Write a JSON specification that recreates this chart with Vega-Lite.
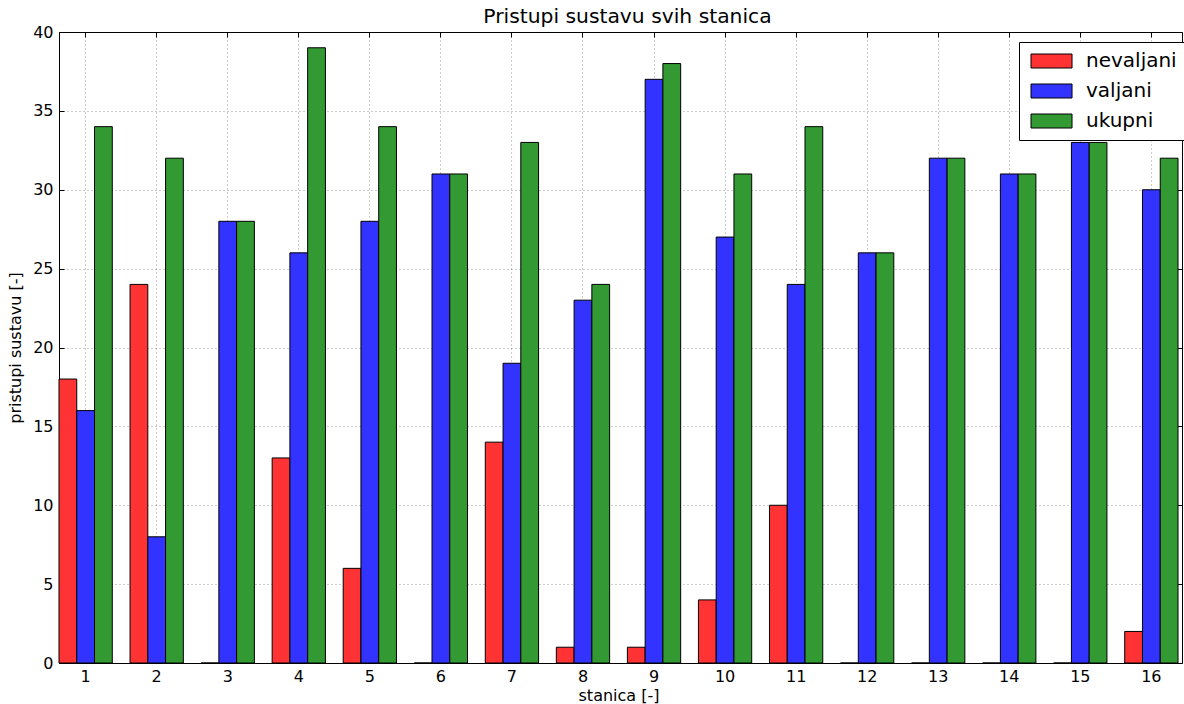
{
  "$schema": "https://vega.github.io/schema/vega-lite/v6.json",
  "width": 1123,
  "height": 631,
  "autosize": {"type": "none"},
  "padding": {"left": 59, "top": 32, "right": 2, "bottom": 41},
  "data": {"values": [
    {"stanica": 1, "serija": "nevaljani", "value": 18}, {"stanica": 1, "serija": "valjani", "value": 16}, {"stanica": 1, "serija": "ukupni", "value": 34},
    {"stanica": 2, "serija": "nevaljani", "value": 24}, {"stanica": 2, "serija": "valjani", "value": 8}, {"stanica": 2, "serija": "ukupni", "value": 32},
    {"stanica": 3, "serija": "nevaljani", "value": 0}, {"stanica": 3, "serija": "valjani", "value": 28}, {"stanica": 3, "serija": "ukupni", "value": 28},
    {"stanica": 4, "serija": "nevaljani", "value": 13}, {"stanica": 4, "serija": "valjani", "value": 26}, {"stanica": 4, "serija": "ukupni", "value": 39},
    {"stanica": 5, "serija": "nevaljani", "value": 6}, {"stanica": 5, "serija": "valjani", "value": 28}, {"stanica": 5, "serija": "ukupni", "value": 34},
    {"stanica": 6, "serija": "nevaljani", "value": 0}, {"stanica": 6, "serija": "valjani", "value": 31}, {"stanica": 6, "serija": "ukupni", "value": 31},
    {"stanica": 7, "serija": "nevaljani", "value": 14}, {"stanica": 7, "serija": "valjani", "value": 19}, {"stanica": 7, "serija": "ukupni", "value": 33},
    {"stanica": 8, "serija": "nevaljani", "value": 1}, {"stanica": 8, "serija": "valjani", "value": 23}, {"stanica": 8, "serija": "ukupni", "value": 24},
    {"stanica": 9, "serija": "nevaljani", "value": 1}, {"stanica": 9, "serija": "valjani", "value": 37}, {"stanica": 9, "serija": "ukupni", "value": 38},
    {"stanica": 10, "serija": "nevaljani", "value": 4}, {"stanica": 10, "serija": "valjani", "value": 27}, {"stanica": 10, "serija": "ukupni", "value": 31},
    {"stanica": 11, "serija": "nevaljani", "value": 10}, {"stanica": 11, "serija": "valjani", "value": 24}, {"stanica": 11, "serija": "ukupni", "value": 34},
    {"stanica": 12, "serija": "nevaljani", "value": 0}, {"stanica": 12, "serija": "valjani", "value": 26}, {"stanica": 12, "serija": "ukupni", "value": 26},
    {"stanica": 13, "serija": "nevaljani", "value": 0}, {"stanica": 13, "serija": "valjani", "value": 32}, {"stanica": 13, "serija": "ukupni", "value": 32},
    {"stanica": 14, "serija": "nevaljani", "value": 0}, {"stanica": 14, "serija": "valjani", "value": 31}, {"stanica": 14, "serija": "ukupni", "value": 31},
    {"stanica": 15, "serija": "nevaljani", "value": 0}, {"stanica": 15, "serija": "valjani", "value": 33}, {"stanica": 15, "serija": "ukupni", "value": 33},
    {"stanica": 16, "serija": "nevaljani", "value": 2}, {"stanica": 16, "serija": "valjani", "value": 30}, {"stanica": 16, "serija": "ukupni", "value": 32}
  ]},
  "layer": [
    {
      "mark": {"type": "bar", "stroke": "#000000", "strokeWidth": 1, "fillOpacity": 1},
      "encoding": {
        "x": {
          "field": "stanica", "type": "ordinal",
          "scale": {"range": [0, 1119], "paddingInner": 0.25, "paddingOuter": 0},
          "axis": {"title": "stanica [-]", "labelAngle": 0, "grid": true, "tickSize": -5, "labelPadding": 10, "titlePadding": 3, "domain": false}
        },
        "xOffset": {
          "field": "serija", "type": "nominal", "sort": ["nevaljani", "valjani", "ukupni"],
          "scale": {"paddingInner": 0, "paddingOuter": 0}
        },
        "y": {
          "field": "value", "type": "quantitative",
          "scale": {"domain": [0, 40], "nice": false},
          "axis": {"title": "pristupi sustavu [-]", "values": [0, 5, 10, 15, 20, 25, 30, 35, 40], "grid": true, "tickSize": -5, "labelPadding": 11, "titlePadding": 9, "domain": false}
        },
        "color": {
          "field": "serija", "type": "nominal", "sort": ["nevaljani", "valjani", "ukupni"],
          "scale": {"domain": ["nevaljani", "valjani", "ukupni"], "range": ["#ff3333", "#3333ff", "#339933"]},
          "legend": {
            "title": null, "orient": "none", "legendX": 960, "legendY": 10,
            "strokeColor": "#000000", "fillColor": "#ffffff", "padding": 9, "cornerRadius": 0,
            "symbolType": "M-1,-1H4.86V1H-1Z", "symbolSize": 196,
            "symbolStrokeColor": "#000000", "symbolStrokeWidth": 1, "symbolOpacity": 1,
            "labelFontSize": 20, "labelOffset": 38, "rowPadding": 10, "labelColor": "#000000"
          }
        }
      }
    },
    {
      "mark": {"type": "bar", "opacity": 0},
      "encoding": {
        "x": {"field": "stanica", "type": "ordinal", "axis": {"orient": "top", "labels": false, "title": "Pristupi sustavu svih stanica", "titleFontSize": 20.3, "titlePadding": 5, "titleX": 568, "grid": false, "tickSize": -5, "domain": false}},
        "y": {"field": "value", "type": "quantitative", "axis": {"orient": "right", "labels": false, "title": null, "grid": false, "tickSize": -5, "domain": false, "values": [0, 5, 10, 15, 20, 25, 30, 35, 40]}}
      }
    }
  ],
  "resolve": {"axis": {"x": "independent", "y": "independent"}},
  "config": {
    "font": "DejaVu Sans",
    "view": {"stroke": "#000000", "strokeWidth": 1},
    "axis": {
      "labelFont": "DejaVu Sans", "titleFont": "DejaVu Sans",
      "labelFontSize": 16, "titleFontSize": 16, "titleFontWeight": "normal",
      "labelColor": "#000000", "titleColor": "#000000",
      "tickColor": "#000000", "tickWidth": 1,
      "gridColor": "#000000", "gridOpacity": 0.4, "gridDash": [1, 3], "gridWidth": 1
    },
    "legend": {"labelFont": "DejaVu Sans"}
  }
}
